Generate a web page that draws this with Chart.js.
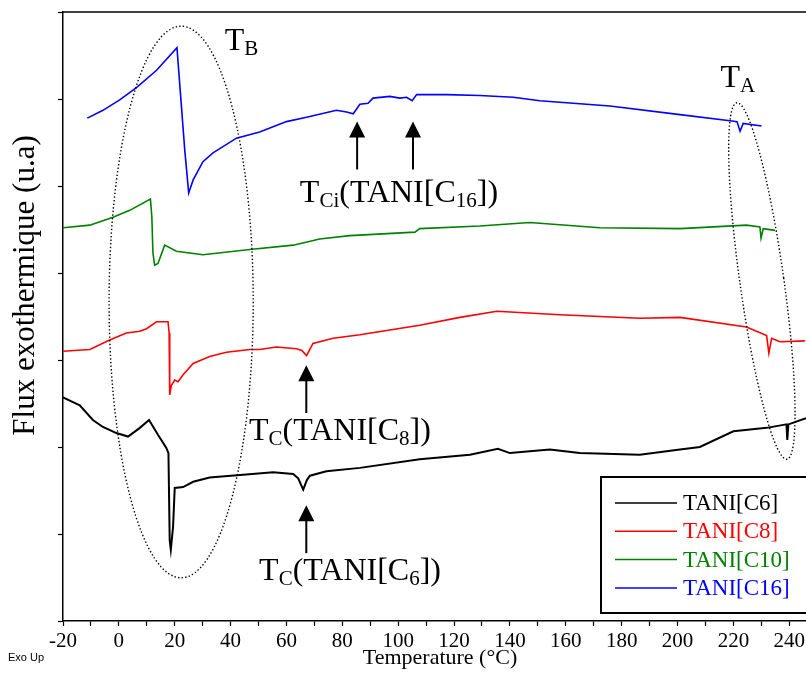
<!DOCTYPE html>
<html>
<head>
<meta charset="utf-8">
<script src="https://cdn.jsdelivr.net/npm/chart.js@4.4.1/dist/chart.umd.min.js"></script>
<style>
  html, body { margin: 0; padding: 0; background: #fff; }
</style>
</head>
<body>
<canvas id="dsc" width="806" height="673"></canvas>
<script>
/*==== data ====*/
const tempC6 = [-20, -14.0, -9.3, -5.7, -0.9, 3.3, 7.5, 10.8, 14.0, 17.0, 17.75, 18.2, 18.6, 19.4, 20.0, 23.0, 26.6, 32.5, 44.5, 55.2, 62.4, 64.2, 66.0, 67.3, 68.4, 74.3, 86.3, 107.7, 125.7, 135.7, 140.0, 154.3, 165.0, 186.5, 200.9, 208.0, 220.0, 231.9, 239.0, 239.3, 239.7, 246.0];
const fluxC6 = [2.57, 2.48, 2.31, 2.23, 2.16, 2.12, 2.22, 2.31, 2.14, 1.99, 1.93, 0.93, 0.82, 1.08, 1.53, 1.54, 1.60, 1.65, 1.68, 1.71, 1.69, 1.64, 1.51, 1.62, 1.67, 1.72, 1.76, 1.86, 1.91, 1.98, 1.93, 1.97, 1.93, 1.91, 1.97, 2.00, 2.18, 2.22, 2.26, 2.08, 2.26, 2.33];

const tempC8 = [-20, -10.4, -3.3, 2.7, 7.5, 9.9, 13.5, 17.6, 18.0, 18.2, 18.8, 20.0, 21.2, 23.0, 26.6, 32.5, 38.5, 46.9, 50.4, 56.4, 63.6, 65.5, 67.2, 69.5, 76.7, 86.3, 107.7, 122.1, 135.3, 157.9, 186.5, 200.9, 224.7, 231.9, 232.7, 233.7, 236.7, 245.6];
const fluxC8 = [3.10, 3.12, 3.23, 3.31, 3.33, 3.36, 3.44, 3.44, 3.31, 2.60, 2.71, 2.77, 2.75, 2.83, 2.96, 3.04, 3.09, 3.12, 3.12, 3.15, 3.13, 3.11, 3.05, 3.19, 3.25, 3.29, 3.40, 3.49, 3.56, 3.52, 3.48, 3.49, 3.38, 3.28, 3.08, 3.25, 3.21, 3.22];

const tempC10 = [-20, -10.4, -2.1, 3.9, 11.3, 11.8, 12.2, 12.8, 14.0, 16.4, 20.6, 30.1, 46.9, 62.4, 71.9, 82.7, 106.0, 107.7, 129.2, 147.1, 172.2, 200.9, 224.7, 229.5, 229.9, 230.7, 234.9];
const fluxC10 = [4.52, 4.55, 4.64, 4.72, 4.85, 4.65, 4.23, 4.09, 4.11, 4.32, 4.25, 4.21, 4.27, 4.32, 4.39, 4.43, 4.47, 4.51, 4.54, 4.58, 4.52, 4.51, 4.55, 4.53, 4.40, 4.51, 4.49];

const tempC16 = [-11.3, -5.7, 0.3, 6.3, 13.5, 20.8, 23.6, 25.0, 26.6, 30.1, 33.7, 42.1, 50.4, 60.0, 67.2, 77.9, 81.5, 83.9, 86.3, 89.2, 91.0, 97.0, 100.6, 103.0, 105.0, 106.6, 117.3, 129.2, 141.2, 150.7, 175.8, 200.9, 218.8, 221.3, 222.4, 223.5, 230.1];
const fluxC16 = [5.78, 5.87, 5.99, 6.13, 6.33, 6.59, 5.41, 4.92, 5.07, 5.28, 5.38, 5.55, 5.62, 5.74, 5.79, 5.87, 5.85, 5.83, 5.94, 5.95, 6.01, 6.03, 6.01, 6.02, 5.98, 6.05, 6.05, 6.04, 6.02, 5.98, 5.92, 5.82, 5.75, 5.74, 5.63, 5.72, 5.69];

const seriesNames = ['TANI[C6]', 'TANI[C8]', 'TANI[C10]', 'TANI[C16]'];
const seriesColors = ['#000000', '#ff0000', '#008000', '#0000ff'];
const xTickLabels = [-20, 0, 20, 40, 60, 80, 100, 120, 140, 160, 180, 200, 220, 240];

/*==== annotations (data coordinates) ====*/
const arrows = [
    {x: 85.3, tip: 5.74, tail: 5.19},
    {x: 105.3, tip: 5.74, tail: 5.19},
    {x: 67.1, tip: 2.94, tail: 2.39},
    {x: 67.1, tip: 1.33, tail: 0.78}
];
const ellipses = [
    {x: 22.3, y: 3.667, rx: 25.8, ry: 3.17, rot: 0},
    {x: 230.2, y: 3.908, rx: 7.88, ry: 2.069, rot: -8}
];
const notes = [
    {x: 37.9, y: 6.563, parts: [['T'], ['B', 1]]},
    {x: 215.4, y: 6.141, parts: [['T'], ['A', 1]]},
    {x: 64.8, y: 4.820, parts: [['T'], ['Ci', 1], ['(TANI[C'], ['16', 1], ['])']]},
    {x: 46.6, y: 2.080, parts: [['T'], ['C', 1], ['(TANI[C'], ['8', 1], ['])']]},
    {x: 50.2, y: 0.471, parts: [['T'], ['C', 1], ['(TANI[C'], ['6', 1], ['])']]}
];

const SERIF = '"Liberation Serif", "Times New Roman", serif';

function pts(xs, ys) {
    return xs.map((t, i) => ({x: t, y: ys[i]}));
}

/*==== overlay: frame, ellipses, arrows, labels, legend ====*/
const overlay = {
    id: 'overlay',
    afterDatasetsDraw(chart) {
        const {ctx, chartArea: area} = chart;
        const sx = chart.scales.x, sy = chart.scales.y;
        const kx = Math.abs(sx.getPixelForValue(1) - sx.getPixelForValue(0));
        const ky = Math.abs(sy.getPixelForValue(1) - sy.getPixelForValue(0));
        const edge = chart.width + 2;
        ctx.save();

        // top frame line
        ctx.strokeStyle = '#000';
        ctx.lineWidth = 1.5;
        ctx.beginPath();
        ctx.moveTo(area.left, area.top);
        ctx.lineTo(edge, area.top);
        ctx.stroke();

        // dotted ellipses
        ctx.setLineDash([1.4, 2.2]);
        ctx.lineWidth = 1.4;
        ellipses.forEach(e => {
            ctx.beginPath();
            ctx.ellipse(sx.getPixelForValue(e.x), sy.getPixelForValue(e.y),
                e.rx * kx, e.ry * ky, e.rot * Math.PI / 180, 0, Math.PI * 2);
            ctx.stroke();
        });
        ctx.setLineDash([]);

        // arrows
        ctx.fillStyle = '#000';
        ctx.lineWidth = 2;
        arrows.forEach(a => {
            const ax = sx.getPixelForValue(a.x);
            const tip = sy.getPixelForValue(a.tip);
            const tail = sy.getPixelForValue(a.tail);
            ctx.beginPath();
            ctx.moveTo(ax, tail);
            ctx.lineTo(ax, tip + 12);
            ctx.stroke();
            ctx.beginPath();
            ctx.moveTo(ax, tip);
            ctx.lineTo(ax - 8, tip + 16);
            ctx.lineTo(ax + 8, tip + 16);
            ctx.closePath();
            ctx.fill();
        });

        // labels with subscripts
        ctx.textBaseline = 'alphabetic';
        ctx.textAlign = 'left';
        notes.forEach(n => {
            let cx = sx.getPixelForValue(n.x);
            const base = sy.getPixelForValue(n.y);
            n.parts.forEach(p => {
                const sub = p[1] === 1;
                ctx.font = (sub ? '21px ' : '32px ') + SERIF;
                ctx.fillText(p[0], cx, base + (sub ? 5 : 0));
                cx += ctx.measureText(p[0]).width;
            });
        });

        // legend box (open on the right, cut by the figure edge)
        const bl = area.right - 205, bt = area.bottom - 144, bb = area.bottom - 8;
        ctx.fillStyle = '#fff';
        ctx.fillRect(bl, bt, edge - bl, bb - bt);
        ctx.strokeStyle = '#000';
        ctx.lineWidth = 2;
        ctx.beginPath();
        ctx.moveTo(edge, bt);
        ctx.lineTo(bl, bt);
        ctx.lineTo(bl, bb);
        ctx.lineTo(edge, bb);
        ctx.stroke();
        ctx.font = '23px ' + SERIF;
        ctx.textBaseline = 'middle';
        chart.data.datasets.forEach((ds, i) => {
            const ly = bt + 26 + i * 28.3;
            ctx.strokeStyle = ds.borderColor;
            ctx.lineWidth = 1.5;
            ctx.beginPath();
            ctx.moveTo(bl + 14, ly);
            ctx.lineTo(bl + 76, ly);
            ctx.stroke();
            ctx.fillStyle = ds.borderColor;
            ctx.fillText(ds.label, bl + 82, ly + 1);
        });

        // "Exo Up" marker
        ctx.fillStyle = '#000';
        ctx.font = '11px "Liberation Sans", Arial, sans-serif';
        ctx.textBaseline = 'middle';
        ctx.fillText('Exo Up', 8, 658);
        ctx.restore();
    }
};

/*==== config ====*/
const data = {
    datasets: [
        {label: seriesNames[0], data: pts(tempC6, fluxC6), borderColor: seriesColors[0], borderWidth: 2},
        {label: seriesNames[1], data: pts(tempC8, fluxC8), borderColor: seriesColors[1], borderWidth: 1.6},
        {label: seriesNames[2], data: pts(tempC10, fluxC10), borderColor: seriesColors[2], borderWidth: 1.6},
        {label: seriesNames[3], data: pts(tempC16, fluxC16), borderColor: seriesColors[3], borderWidth: 1.6}
    ]
};

const config = {
    type: 'scatter',
    data,
    options: {
        responsive: false,
        animation: false,
        devicePixelRatio: 1,
        showLine: true,
        elements: {point: {radius: 0}, line: {tension: 0}},
        layout: {padding: {top: 12, right: 0, left: 0, bottom: 0}},
        plugins: {legend: {display: false}, tooltip: {enabled: false}},
        scales: {
            x: {
                type: 'linear',
                min: -20,
                max: 246,
                afterFit(scale) {
                    scale.height = 52;
                    scale.paddingLeft = 0;
                    scale.paddingRight = 0;
                },
                border: {color: '#000', width: 1.5},
                grid: {drawOnChartArea: false, tickLength: 5, tickColor: '#000', tickWidth: 1.2},
                ticks: {
                    stepSize: 10,
                    includeBounds: false,
                    autoSkip: false,
                    maxRotation: 0,
                    padding: 3,
                    color: '#000',
                    font: {family: SERIF, size: 21},
                    callback: v => xTickLabels.includes(v) ? String(v) : ''
                },
                title: {
                    display: true,
                    text: '\u2002Temperature (°C)',
                    color: '#000',
                    font: {family: SERIF, size: 22},
                    padding: {top: 0, bottom: 2}
                }
            },
            y: {
                type: 'linear',
                min: 0,
                max: 7,
                afterFit(scale) { scale.width = 63; },
                border: {color: '#000', width: 1.5},
                grid: {drawOnChartArea: false, tickLength: 5, tickColor: '#000', tickWidth: 1.2},
                ticks: {stepSize: 1, callback: () => ''},
                title: {
                    display: true,
                    text: '\u2003\u2003Flux exothermique (u.a)',
                    color: '#000',
                    font: {family: SERIF, size: 31},
                    padding: {top: 7, bottom: 0}
                }
            }
        }
    },
    plugins: [overlay]
};

/*===== render =====*/
const dscChart = new Chart(document.getElementById('dsc'), config);
</script>
</body>
</html>
